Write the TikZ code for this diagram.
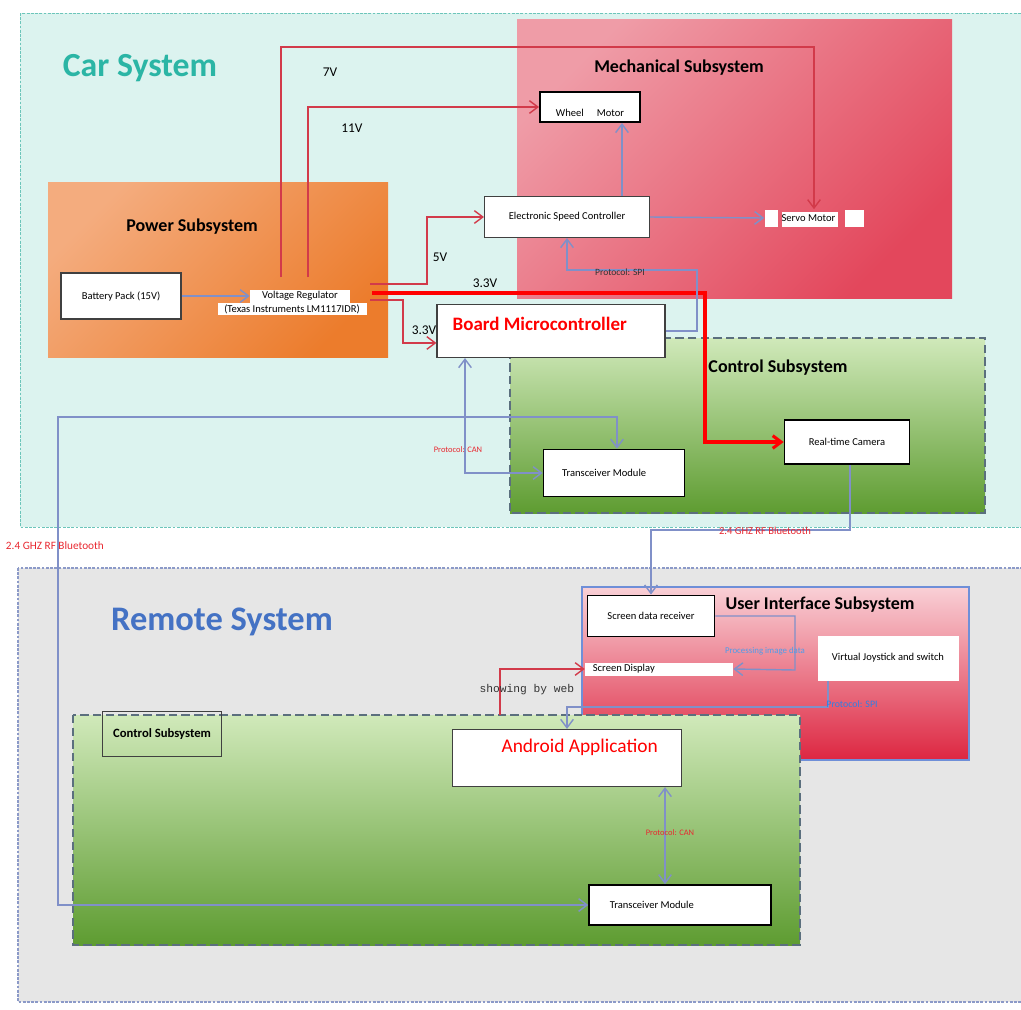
\documentclass[tikz,border=0pt]{standalone}
\usepackage{fontspec}
\setmainfont{Carlito}
\newfontfamily\webfont{Liberation Mono}
\usetikzlibrary{arrows.meta, calc}

\definecolor{carBg}{HTML}{DCF3EF}
\definecolor{carEdge}{HTML}{6CC5BA}
\definecolor{carTitle}{HTML}{2BB5A5}
\definecolor{remBg}{HTML}{E6E6E6}
\definecolor{remEdge}{HTML}{8C9AC8}
\definecolor{remTitle}{HTML}{4472C4}
\definecolor{powA}{HTML}{F4AC7E}
\definecolor{powB}{HTML}{EC7C2C}
\definecolor{mechA}{HTML}{EF9CA7}
\definecolor{mechB}{HTML}{E3475C}
\definecolor{grnA}{HTML}{D0E9BA}
\definecolor{grnM}{HTML}{7DBB48}
\definecolor{grnB}{HTML}{5E9C31}
\definecolor{uiA}{HTML}{F9D0D6}
\definecolor{uiB}{HTML}{DD2641}
\definecolor{uiEdge}{HTML}{6F8FD8}
\definecolor{ctlEdge}{HTML}{5B6F7E}
\definecolor{lineRed}{HTML}{D23A4A}
\definecolor{lineBlue}{HTML}{8090C8}
\definecolor{lblRed}{HTML}{E82830}
\definecolor{lblBlue}{HTML}{4E9CEA}
\definecolor{lblBlueDeep}{HTML}{2F7FE6}

\newcommand{\pxu}{0.025cm}

\begin{document}
\begin{tikzpicture}[x=0.025cm, y=-0.025cm,
    sized/.style 2 args={minimum width=#1*\pxu, minimum height=#2*\pxu},
    blockbox/.style={draw=black!75, fill=white, line width=0.8pt, inner sep=1pt,
        font=\fontsize{7.5}{8.5}\selectfont},
    thickbox/.style={blockbox, draw=black, line width=1.4pt},
    tagbox/.style={fill=white, inner sep=1pt, font=\fontsize{7.5}{8.5}\selectfont},
    subtitle/.style={font=\fontsize{12.8}{14}\selectfont\bfseries},
    voltlbl/.style={font=\fontsize{9.5}{11}\selectfont},
    redlbl/.style={text=lblRed, font=\fontsize{6}{7}\selectfont},
    bluelbl/.style={text=lblBlue, font=\fontsize{6.3}{7}\selectfont},
    barb/.tip={Straight Barb[length=6pt,width=9pt]},
    redline/.style={draw=lineRed, line width=1pt, -barb},
    blueline/.style={draw=lineBlue, line width=1pt, -barb},
    bothway/.style={barb-barb},
    ctlframe/.style={draw=ctlEdge, line width=2pt, dash pattern=on 6pt off 3pt,
        top color=grnA, middle color=grnM, bottom color=grnB}
]
    \useasboundingbox (0,0) rectangle (1021,1009);

    % Outer system frames
    \draw[carEdge, fill=carBg, line width=0.6pt, dash pattern=on 2pt off 1pt]
        (20,13) rectangle (1040,527);
    \draw[remEdge, fill=remBg, line width=0.8pt, dash pattern=on 2pt off 1pt]
        (18,568) rectangle (1040,1002);
    \node[font=\fontsize{24}{27}\selectfont\bfseries, text=carTitle] (cartitle) at (140,68) {Car System};
    \node[font=\fontsize{24.5}{27}\selectfont\bfseries, text=remTitle] (remtitle) at (222,622) {Remote System};

    % Subsystem areas
    \shade[shading=axis, top color=powA, bottom color=powB, shading angle=45] (48,182) rectangle (388,357);
    \shade[shading=axis, top color=mechA, bottom color=mechB, shading angle=45] (517,19) rectangle (952,298);
    \path[ctlframe] (510,338) rectangle (985,513);
    \path[draw=uiEdge, line width=0.8pt, top color=uiA, bottom color=uiB] (582,587) rectangle (969,760);
    \path[ctlframe] (73,715) rectangle (800,945);

    \node[subtitle] (powtitle) at (192,227) {Power Subsystem};
    \node[subtitle] (mechtitle) at (679,68) {Mechanical Subsystem};
    \node[subtitle] (ctltitle) at (778,368) {Control Subsystem};
    \node[subtitle] (uititle) at (820,605) {User Interface Subsystem};

    % Blocks of the car
    \node[blockbox, sized={120}{46}] (batt) at (121,296) {Battery Pack (15V)};
    \node[tagbox, sized={100}{13}] (vreg) at (300,296) {Voltage Regulator};
    \node[tagbox, sized={149}{12}] (vregsub) at (292,309) {(Texas Instruments LM1117IDR)};
    \node[blockbox, sized={165}{41}] (esc) at (567,217) {Electronic Speed Controller};
    \node[thickbox, sized={100}{30}, text height=13pt] (wheel) at (590,107) {Wheel \quad Motor};
    \fill[white] (765,210) rectangle (778,227);
    \fill[white] (782,212) rectangle (838,227);
    \fill[white] (845,210) rectangle (864,227);
    \node[inner sep=1pt, font=\fontsize{7.5}{8.5}\selectfont, sized={99}{17}] (servo) at (814,218) {\hspace*{-8pt}Servo Motor};
    \node[blockbox, sized={228}{53}, text depth=10pt, text=red, font=\fontsize{13.5}{15}\selectfont\bfseries] (mcu) at (551,331) {Board Microcontroller\hspace*{16pt}};
    \node[blockbox, draw=black, line width=1.1pt, sized={125}{44}] (cam) at (847,442) {Real-time Camera};
    \node[blockbox, draw=black, line width=1.1pt, sized={141}{47}] (trcar) at (614,473) {Transceiver Module\hspace*{14pt}};

    % Blocks of the remote
    \node[thickbox, sized={127}{41}] (sdr) at (651,616) {Screen data receiver};
    \node[tagbox, sized={148}{13}] (sdisp) at (659,669) {Screen Display\hspace*{50pt}};
    \node[tagbox, sized={141}{45}] (joy) at (888,658) {Virtual Joystick and switch};
    \node[blockbox, fill=none, line width=0.8pt, sized={119}{45}, font=\fontsize{9}{10}\selectfont\bfseries] (ctlbox) at (162,734) {Control Subsystem};
    \node[blockbox, sized={229}{57}, text depth=18pt, text=red, font=\fontsize{13.8}{15}\selectfont] (android) at (567,758) {\hspace*{18pt}Android Application};
    \node[blockbox, draw=black, line width=1.1pt, sized={182}{40}] (trrem) at (680,905) {Transceiver Module\hspace*{40pt}};

    % Power rails out of the regulator
    \coordinate (v7) at (281,277);
    \coordinate (v11) at (308,277);
    \coordinate (p5) at (370,284);
    \coordinate (p33a) at (372,293);
    \coordinate (p33b) at (370,300);
    \draw[blueline] (batt.east) -- (vreg.west);
    \draw[redline] (v7) -- (v7 |- 0,47) -| (servo.north);
    \draw[redline] (v11) |- (wheel.west);
    \draw[redline] (p5) -- ++(57,0) |- (esc.west);
    \draw[redline, draw=red, line width=2.2pt] (p33a) -- ++(333,0) |- (cam.west);
    \draw[redline] (p33b) -- ++(33,0) |- ([yshift=-8.5pt]mcu.west);
    \node[voltlbl] (lbl7) at (330,72) {7V};
    \node[voltlbl] (lbl11) at (352,128) {11V};
    \node[voltlbl] (lbl5) at (440,257) {5V};
    \node[voltlbl] (lbl33a) at (485,283) {3.3V};
    \node[voltlbl] (lbl33b) at (424,330) {3.3V};

    % Signal links in the car
    \draw[blueline] (mcu.east) -| (697,270) -| (esc.south);
    \draw[blueline] (esc.north -| 622,0) -- (wheel.south -| 622,0);
    \draw[blueline] (esc.east) -- (servo.west);
    \draw[blueline, bothway] (mcu.south -| 465,0) |- (trcar.west);
    \node[font=\fontsize{6.8}{8}\selectfont, text=black!80] (lblspi) at (620,272) {Protocol: SPI};
    \node[redlbl] (lblcan) at (458,450) {Protocol: CAN};

    % Radio links between car and remote
    \draw[blueline, bothway] (trcar.north -| 617,0) |- (58,417) |- (trrem.west);
    \draw[blueline] (cam.south -| 850,0) -- (850,530) -| (sdr.north);
    \node[redlbl, font=\fontsize{8}{9}\selectfont, anchor=west] (lblbt1) at (1,546) {2.4 GHZ RF Bluetooth};
    \node[redlbl, font=\fontsize{7.5}{8.5}\selectfont] (lblbt2) at (765,531) {2.4 GHZ RF Bluetooth};

    % Links in the remote
    \coordinate (web0) at (500,715);
    \draw[blueline] (sdr.east) -| (795,670) -- (sdisp.east);
    \draw[redline] (web0) |- (sdisp.west);
    \draw[blueline] (joy.south -| 828,0) -- (828,707) -| (android.north);
    \draw[blueline, bothway] (android.south -| 665,0) -- (trrem.north -| 665,0);
    \node[bluelbl] (lblimg) at (765,651) {Processing image data};
    \node[font=\webfont\fontsize{8}{9}\selectfont, text=black!80] (lblweb) at (527,690) {showing by web};
    \node[bluelbl, text=lblBlueDeep, font=\fontsize{7}{8}\selectfont] (lblspi2) at (852,704) {Protocol: SPI};
    \node[redlbl] (lblcan2) at (670,833) {Protocol: CAN};
\end{tikzpicture}
\end{document}
